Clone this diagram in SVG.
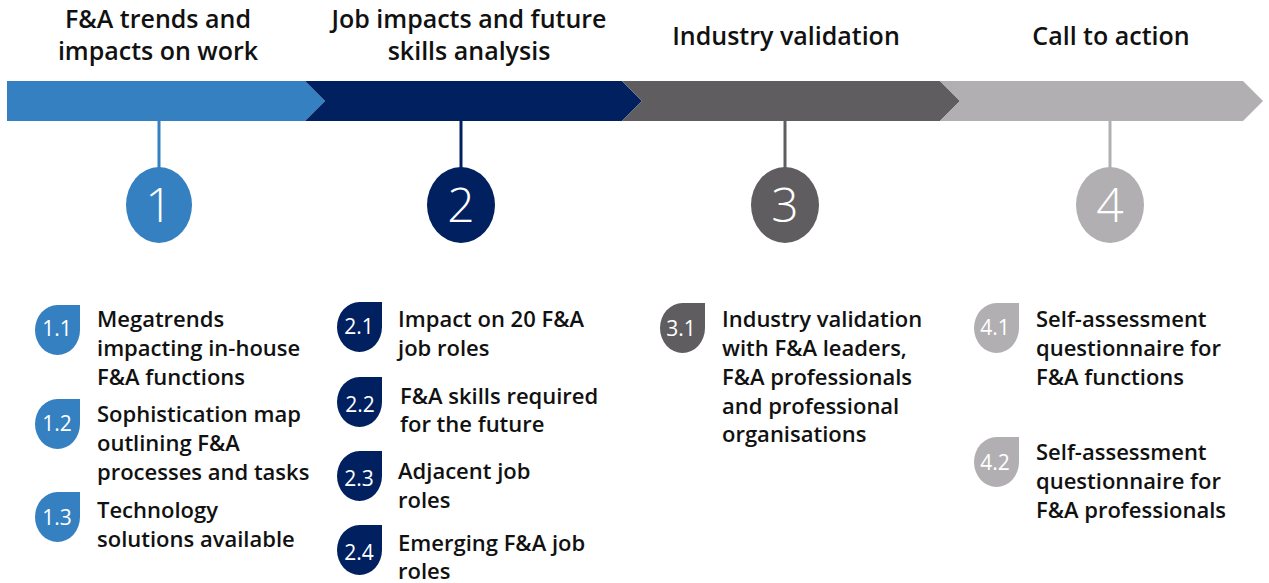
<svg xmlns="http://www.w3.org/2000/svg" xmlns:xlink="http://www.w3.org/1999/xlink" width="1269" height="583" viewBox="0 0 1269 583">
<style>
.hd{font-family:"Open Sans","Noto Sans","Liberation Sans",sans-serif;font-weight:600;font-size:25px;fill:#111;text-anchor:middle}
.it{font-family:"Open Sans","Noto Sans","Liberation Sans",sans-serif;font-weight:600;font-size:22px;fill:#111}
.big{font-family:"Open Sans","Noto Sans","Liberation Sans",sans-serif;font-weight:300;font-size:48px;fill:#fff;text-anchor:middle}
.bn{font-family:"Open Sans","Noto Sans","Liberation Sans",sans-serif;font-weight:400;font-size:21px;fill:#fff;text-anchor:middle}
.c1{fill:#3580c1}.c2{fill:#002060}.c3{fill:#5f5d60}.c4{fill:#b1afb2}
.l1{stroke:#3580c1}.l2{stroke:#002060}.l3{stroke:#5f5d60}.l4{stroke:#b1afb2}
line{stroke-width:3}
</style>
<defs>
<path id="drop" d="M22.5,0 H45 V25 A22.5,25 0 0 1 22.5,50 A22.5,25 0 0 1 0,25 A22.5,25 0 0 1 22.5,0 Z"/>
</defs>
<g id="band">
<polygon class="c1" points="7,81 305,81 325,101 305,121 7,121"/>
<polygon class="c2" points="305,81 622,81 642,101 622,121 305,121 325,101"/>
<polygon class="c3" points="622,81 940,81 960,101 940,121 622,121 642,101"/>
<polygon class="c4" points="940,81 1243,81 1263,101 1243,121 940,121 960,101"/>
</g>
<g id="connectors">
<line class="l1" x1="159" y1="121" x2="159" y2="170"/>
<line class="l2" x1="461" y1="121" x2="461" y2="170"/>
<line class="l3" x1="785" y1="121" x2="785" y2="170"/>
<line class="l4" x1="1110" y1="121" x2="1110" y2="170"/>
</g>
<g id="stage1">
<text class="hd" x="158" y="28">F&amp;A trends and</text>
<text class="hd" x="158" y="60">impacts on work</text>
<ellipse class="c1" cx="159" cy="205" rx="33" ry="38"/>
<text class="big" x="159" y="222">1</text>
</g>
<g id="stage2">
<text class="hd" x="469" y="28">Job impacts and future</text>
<text class="hd" x="469" y="60">skills analysis</text>
<ellipse class="c2" cx="461" cy="205" rx="34" ry="38"/>
<text class="big" x="461" y="222">2</text>
</g>
<g id="stage3">
<text class="hd" x="786" y="45">Industry validation</text>
<ellipse class="c3" cx="785" cy="205" rx="34" ry="38"/>
<text class="big" x="785" y="222">3</text>
</g>
<g id="stage4">
<text class="hd" x="1111" y="45">Call to action</text>
<ellipse class="c4" cx="1110" cy="205" rx="34" ry="38"/>
<text class="big" x="1110" y="222">4</text>
</g>
<g id="item1-1">
<use xlink:href="#drop" href="#drop" class="c1" x="35" y="305"/>
<text class="bn" x="57" y="336">1.1</text>
<text class="it" x="97" y="327">Megatrends</text>
<text class="it" x="97" y="356">impacting in-house</text>
<text class="it" x="97" y="385">F&amp;A functions</text>
</g>
<g id="item1-2">
<use xlink:href="#drop" href="#drop" class="c1" x="35" y="399"/>
<text class="bn" x="57" y="431">1.2</text>
<text class="it" x="97" y="422">Sophistication map</text>
<text class="it" x="97" y="451">outlining F&amp;A</text>
<text class="it" x="97" y="480">processes and tasks</text>
</g>
<g id="item1-3">
<use xlink:href="#drop" href="#drop" class="c1" x="35" y="492"/>
<text class="bn" x="57" y="525">1.3</text>
<text class="it" x="97" y="518">Technology</text>
<text class="it" x="97" y="547">solutions available</text>
</g>
<g id="item2-1">
<use xlink:href="#drop" href="#drop" class="c2" x="337" y="302"/>
<text class="bn" x="359" y="334">2.1</text>
<text class="it" x="398" y="327">Impact on 20 F&amp;A</text>
<text class="it" x="398" y="356">job roles</text>
</g>
<g id="item2-2">
<use xlink:href="#drop" href="#drop" class="c2" x="337" y="377"/>
<text class="bn" x="360" y="412">2.2</text>
<text class="it" x="400" y="404">F&amp;A skills required</text>
<text class="it" x="400" y="432">for the future</text>
</g>
<g id="item2-3">
<use xlink:href="#drop" href="#drop" class="c2" x="337" y="451"/>
<text class="bn" x="359" y="486">2.3</text>
<text class="it" x="398" y="479">Adjacent job</text>
<text class="it" x="398" y="508">roles</text>
</g>
<g id="item2-4">
<use xlink:href="#drop" href="#drop" class="c2" x="337" y="525"/>
<text class="bn" x="359" y="560">2.4</text>
<text class="it" x="398" y="551">Emerging F&amp;A job</text>
<text class="it" x="398" y="579">roles</text>
</g>
<g id="item3-1">
<use xlink:href="#drop" href="#drop" class="c3" x="660" y="303"/>
<text class="bn" x="681" y="336">3.1</text>
<text class="it" x="722" y="327">Industry validation</text>
<text class="it" x="722" y="356">with F&amp;A leaders,</text>
<text class="it" x="722" y="385">F&amp;A professionals</text>
<text class="it" x="722" y="414">and professional</text>
<text class="it" x="722" y="442">organisations</text>
</g>
<g id="item4-1">
<use xlink:href="#drop" href="#drop" class="c4" x="974" y="303"/>
<text class="bn" x="995" y="335">4.1</text>
<text class="it" x="1036" y="327">Self-assessment</text>
<text class="it" x="1036" y="356">questionnaire for</text>
<text class="it" x="1036" y="385">F&amp;A functions</text>
</g>
<g id="item4-2">
<use xlink:href="#drop" href="#drop" class="c4" x="974" y="437"/>
<text class="bn" x="995" y="470">4.2</text>
<text class="it" x="1036" y="460">Self-assessment</text>
<text class="it" x="1036" y="489">questionnaire for</text>
<text class="it" x="1036" y="518">F&amp;A professionals</text>
</g>
</svg>
